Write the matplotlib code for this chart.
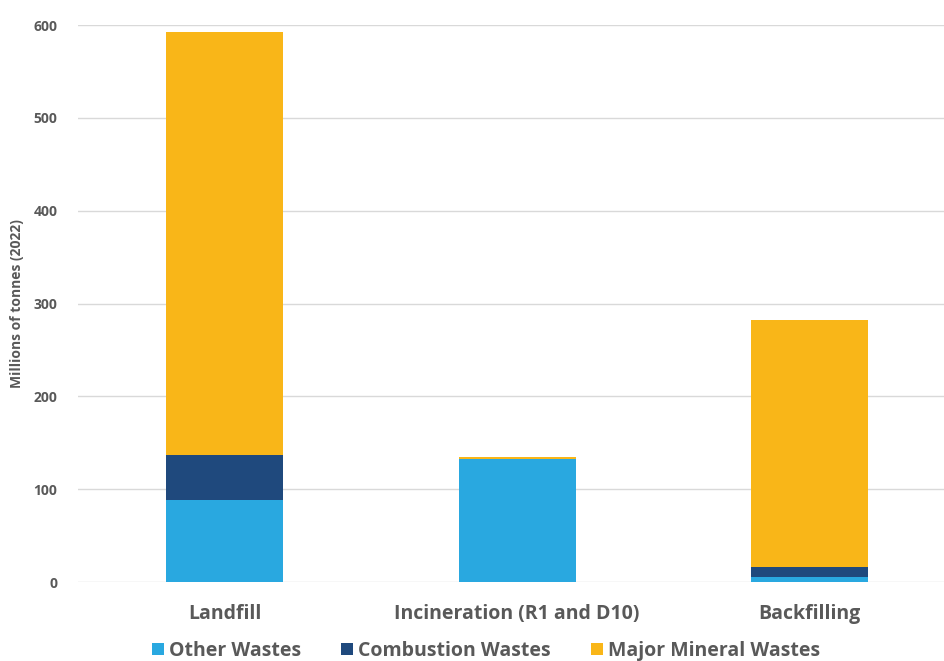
import matplotlib.pyplot as plt
import numpy as np

categories = ["Landfill", "Incineration (R1 and D10)", "Backfilling"]
other_wastes = [88, 133, 5.7]
combustion_wastes = [49, 0, 11]
mineral_wastes = [456, 2, 266]

c_other = "#29A8E0"
c_comb = "#1F497D"
c_min = "#F9B618"
grey = "#595959"

plt.rcParams['font.family'] = ['Open Sans', 'DejaVu Sans']

fig = plt.figure(figsize=(9.44, 6.61), dpi=100)
ax = fig.add_axes([0.083, 0.1195, 0.917, 0.8425])

x = np.arange(len(categories))
w = 0.4
bottom2 = np.array(other_wastes)
bottom3 = bottom2 + np.array(combustion_wastes)
ax.bar(x, other_wastes, w, color=c_other, label="Other Wastes", zorder=3)
ax.bar(x, combustion_wastes, w, bottom=bottom2, color=c_comb, label="Combustion Wastes", zorder=3)
ax.bar(x, mineral_wastes, w, bottom=bottom3, color=c_min, label="Major Mineral Wastes", zorder=3)

ax.set_xlim(-0.5, 2.46)
ax.set_ylim(0, 600)
ax.set_yticks(range(0, 601, 100))
ax.grid(axis='y', color="#d9d9d9", linewidth=1, zorder=0)
for s in ax.spines.values():
    s.set_visible(False)
ax.tick_params(axis='both', length=0)
ax.tick_params(axis='y', labelsize=10, labelcolor=grey, pad=15)
ax.tick_params(axis='x', labelsize=14, labelcolor=grey, pad=16)
ax.set_xticks(x)
ax.set_xticklabels(categories, fontweight='bold')
for t in ax.get_yticklabels():
    t.set_fontweight('bold')
ax.set_ylabel("Millions of tonnes (2022)", fontsize=10, fontweight='bold', color=grey, labelpad=7)

leg = ax.legend(loc='center', bbox_to_anchor=(0.471, -0.124), ncol=3, frameon=False,
                handlelength=0.6, handleheight=0.6, handletextpad=0.25, columnspacing=2.1,
                borderpad=0, prop={'size': 14, 'weight': 'bold'})
for t in leg.get_texts():
    t.set_color(grey)

fig.savefig("out.png", dpi=100)
